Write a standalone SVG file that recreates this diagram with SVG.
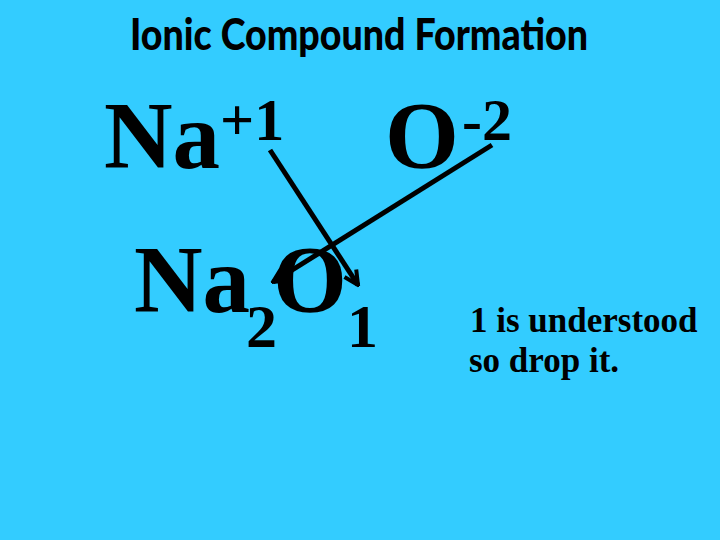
<svg xmlns="http://www.w3.org/2000/svg" width="720" height="540" viewBox="0 0 720 540">
<defs>
<style>
.big{font-family:"Liberation Serif","Times New Roman",serif;font-weight:bold;fill:#000;}
.note{font-family:"Liberation Serif","Times New Roman",serif;font-weight:bold;font-size:35px;fill:#000;}
.title{font-family:Lato,"Open Sans",sans-serif;font-weight:900;font-size:44px;fill:#000;}
.conn{stroke:#000;stroke-width:5;fill:none;marker-end:url(#arr);}
</style>
<marker id="arr" viewBox="0 0 18 18" refX="16" refY="9" markerWidth="18" markerHeight="18" orient="auto" markerUnits="userSpaceOnUse">
<path d="M2,2 L16,9 L2,16" stroke="#000" stroke-width="4" fill="none"/>
</marker>
</defs>
<rect width="720" height="540" fill="#33CCFF"/>
<g id="title"><text class="title" x="130" y="50" textLength="458" lengthAdjust="spacingAndGlyphs">Ionic Compound Formation</text></g>
<g id="na-ion"><text class="big" x="104" y="168" font-size="95">Na</text><text class="big" x="220" y="140" font-size="60">+1</text></g>
<g id="o-ion"><text class="big" x="385" y="168" font-size="95">O</text><text class="big" x="462" y="140" font-size="60">-2</text></g>
<g id="formula"><text class="big" x="134" y="312" font-size="95">Na</text><text class="big" x="246" y="347" font-size="62">2</text><text class="big" x="273" y="312" font-size="95">O</text><text class="big" x="347" y="347" font-size="62">1</text></g>
<g id="note"><text class="note" x="470" y="332">1 is understood</text><text class="note" x="469" y="372">so drop it.</text></g>
<g id="connectors">
<line class="conn" x1="270" y1="150" x2="358" y2="285"/>
<line class="conn" x1="492" y1="145" x2="273" y2="282"/>
</g>
</svg>
